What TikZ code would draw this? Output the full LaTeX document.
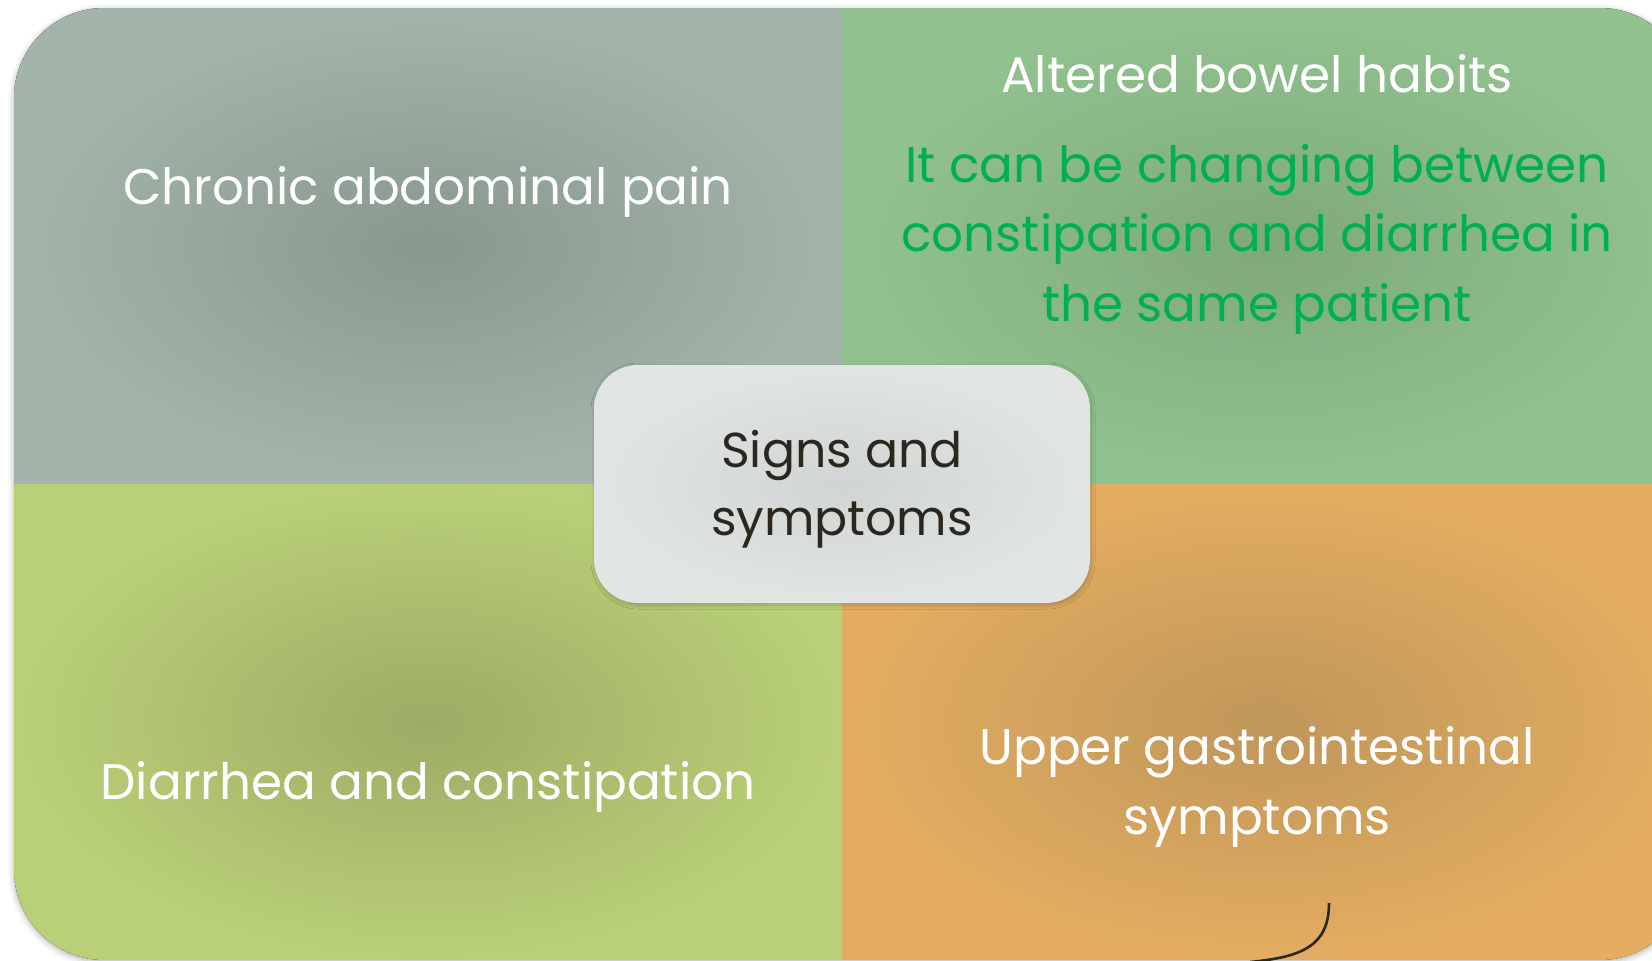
\documentclass[tikz,border=0pt]{standalone}
\usepackage{fontspec}
\setmainfont{Poppins}
\usepackage{xcolor}
\definecolor{slatein}{RGB}{136,152,143}
\definecolor{slateout}{RGB}{163,180,170}
\definecolor{leafin}{RGB}{126,169,122}
\definecolor{leafout}{RGB}{146,194,144}
\definecolor{limein}{RGB}{156,172,101}
\definecolor{limeout}{RGB}{186,208,120}
\definecolor{amberin}{RGB}{191,150,89}
\definecolor{amberout}{RGB}{228,173,97}
\definecolor{hubin}{RGB}{208,212,211}
\definecolor{hubout}{RGB}{225,229,228}
\definecolor{notegreen}{RGB}{0,176,80}
\definecolor{inkdark}{RGB}{42,40,30}
\usepackage{tikz}
\usetikzlibrary{positioning,shadows.blur}
\tikzset{
  quadtext/.style={text=white,align=center,font=\fontsize{25}{34.75}\selectfont},
  notetext/.style={text=notegreen,align=center,font=\fontsize{25}{34.75}\selectfont},
  hub/.style     ={rectangle,rounded corners=22pt,minimum width=248pt,minimum height=119pt,
                   shading=radial,inner color=hubin,outer color=hubout,
                   blur shadow={shadow xshift=0.5pt,shadow yshift=-1pt,shadow blur radius=2pt,shadow opacity=22}},
  hubtext/.style ={text=inkdark,align=center,font=\fontsize{24.5}{34}\selectfont},
  tail/.style    ={draw=inkdark,line width=1.3pt},
}
\begin{document}
\begin{tikzpicture}[x=0.5pt,y=-0.5pt]
  \useasboundingbox (0,0) rectangle (1652,960);
  \fill[white,rounded corners=45pt,
        blur shadow={shadow xshift=0pt,shadow yshift=-1pt,shadow blur radius=3pt,shadow opacity=30}]
    (14,8) rectangle (1690,960);
  \begin{scope}
    \clip[rounded corners=45pt] (14,8) rectangle (1690,960);
    \foreach \x/\y/\w/\c in {14/8/828/slate, 842/8/848/leaf, 14/484/828/lime, 842/484/848/amber}{
      \fill[shading=radial,inner color=\c in,outer color=\c out] (\x,\y) rectangle ++(\w,476);
    }
  \end{scope}
  \node[quadtext] (chronic) at (428,192) {Chronic abdominal pain};
  \node[quadtext] (bowel) at (1257,74) {Altered bowel habits};
  \node[notetext] (switching) at (1257,239) {It can be changing between\\constipation and diarrhea in\\the same patient};
  \node[quadtext] (diarrhea) at (428,787) {Diarrhea and constipation};
  \node[quadtext] (upper) at (1257,787) {Upper gastrointestinal\\symptoms};
  \node[hub] (signs) at (842,484) {};
  \node[hubtext,yshift=-2.5pt] (signslabel) at (signs) {Signs and\\symptoms};
  \coordinate (tailtop) at (1329,903);
  \coordinate (tailend) at (1250,962);
  \draw[tail] (tailtop) .. controls (1329,946) and (1302,957) .. (tailend);
\end{tikzpicture}
\end{document}
